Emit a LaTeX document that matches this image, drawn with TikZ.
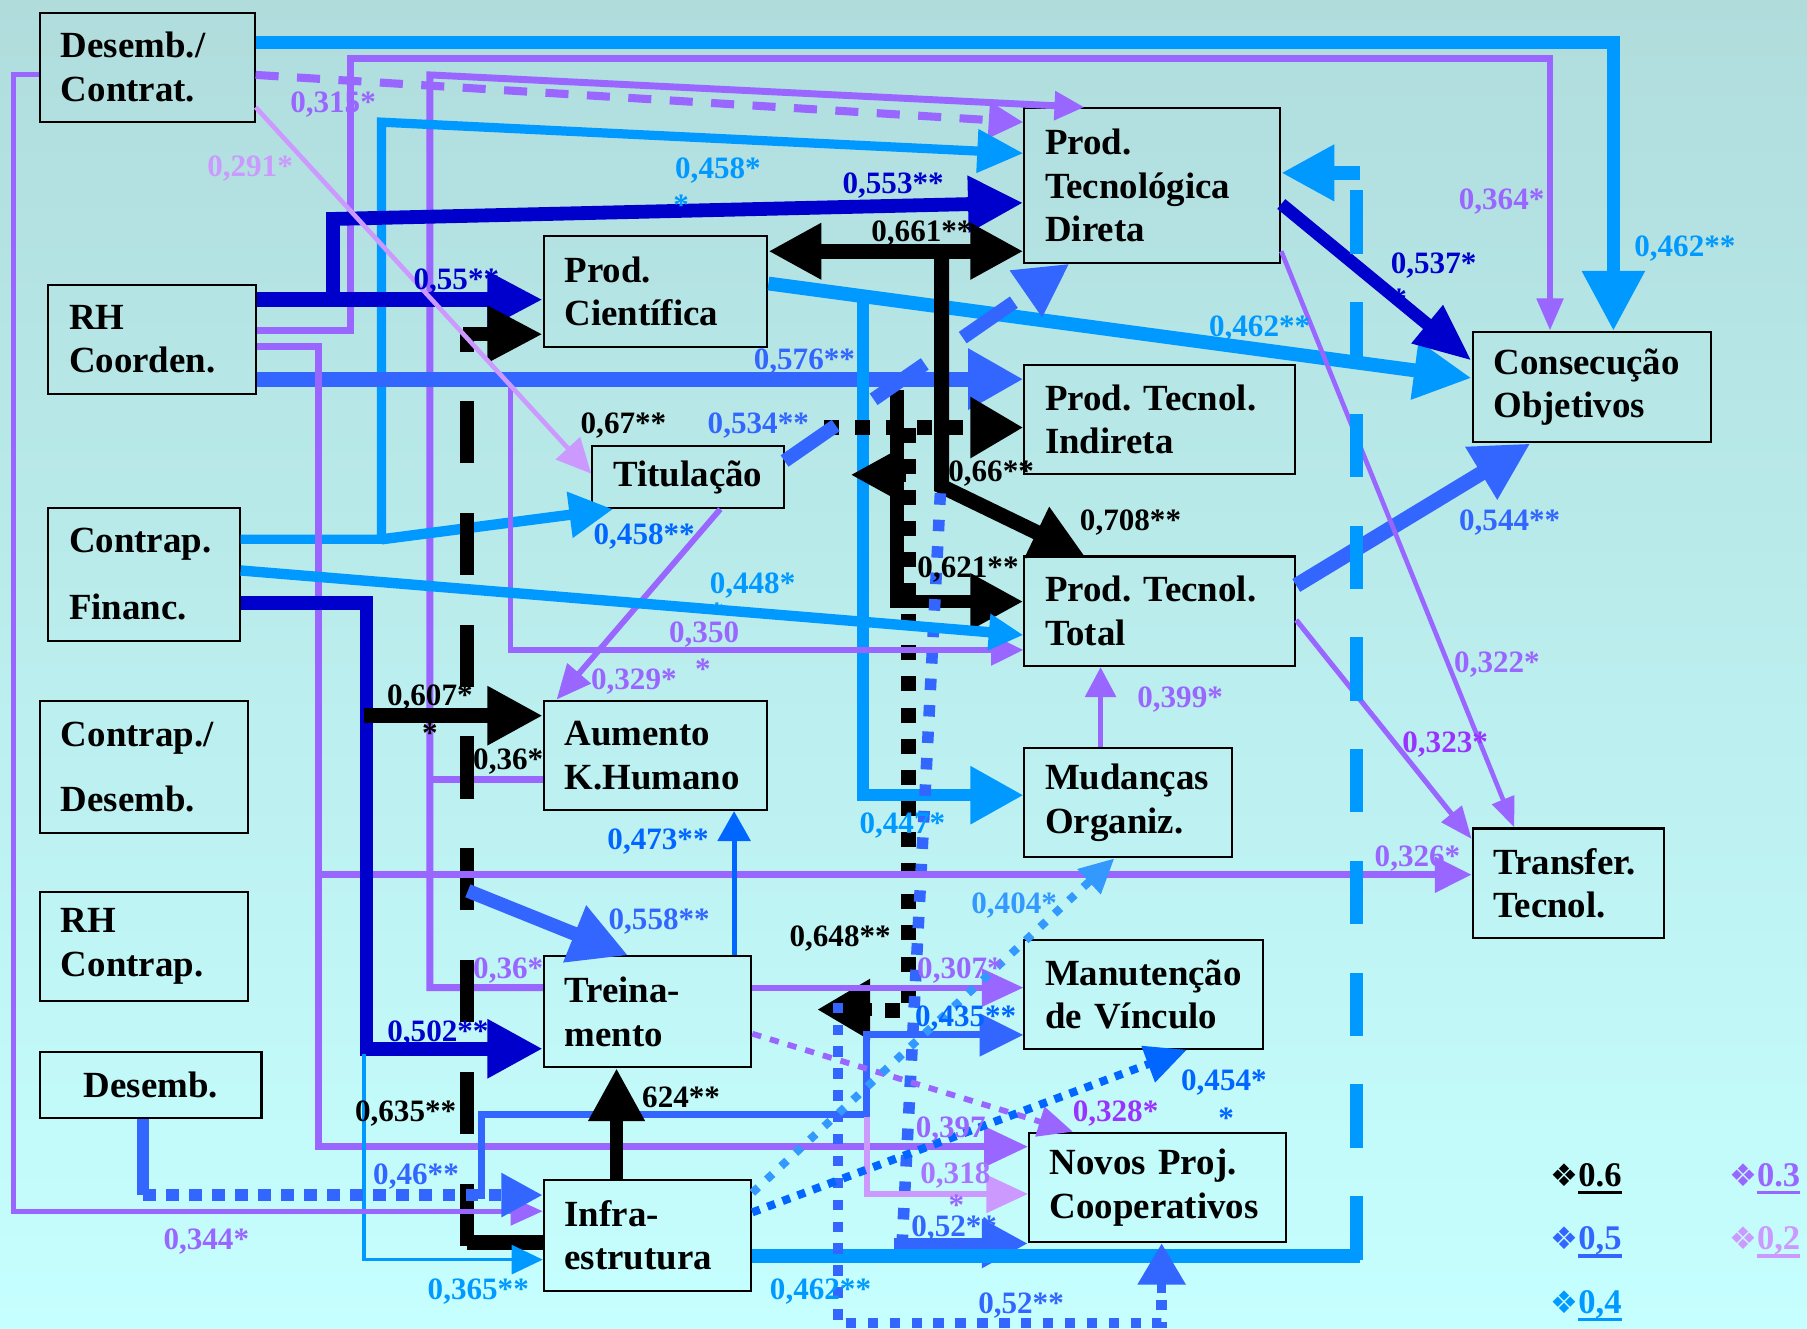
\documentclass[tikz,border=0pt]{standalone}
\usepackage{fontspec}
\setmainfont{Liberation Serif}
\newfontfamily\djv{DejaVu Sans}
\usetikzlibrary{arrows.meta}
\definecolor{lb}{HTML}{0099FF}
\definecolor{bl}{HTML}{3366FF}
\definecolor{db}{HTML}{0000CC}
\definecolor{mb}{HTML}{0066FF}
\definecolor{pu}{HTML}{9966FF}
\definecolor{lp}{HTML}{CC99FF}
\definecolor{dp}{HTML}{9933FF}
\definecolor{dbb}{HTML}{3399FF}
\definecolor{bgtop}{RGB}{176,220,220}
\definecolor{bgbot}{RGB}{198,255,255}
\newcommand{\myul}[1]{\setbox0=\hbox{#1}\rlap{\raisebox{-3.5pt}{\rule{\wd0}{1.6pt}}}\box0}
\frenchspacing
\begin{document}
\begin{tikzpicture}[x=0.5pt,y=-0.5pt,
 bx/.style={draw=black, line width=0.9pt, rectangle, anchor=north west, inner xsep=9pt, inner ysep=0pt, align=left, font=\frenchspacing\bfseries\fontsize{16}{19}\selectfont},
 lab/.style={inner sep=0pt, font=\bfseries\fontsize{13.5}{15}\selectfont},
 lgd/.style={inner sep=0pt, anchor=west, font=\bfseries\fontsize{15}{16}\selectfont}]
\shade[top color=bgtop,bottom color=bgbot] (0,0) rectangle (1568,1153);
\useasboundingbox (0,0) rectangle (1568,1153);

% ---------- boxes ----------
\node[bx,minimum width=93pt,minimum height=47.5pt,text width=75pt] (DC) at (34,10) {Desemb./\\Contrat.};
\node[bx,minimum width=90pt,minimum height=47.5pt,text width=72pt] (RH) at (41,246) {RH\\Coorden.};
\node[bx,minimum width=83pt,minimum height=57.5pt,text width=65pt] (CF) at (41,440) {Contrap.\\[10pt]Financ.};
\node[bx,minimum width=90pt,minimum height=57.5pt,text width=72pt] (CD) at (34,607) {Contrap./\\[9pt]Desemb.};
\node[bx,minimum width=90pt,minimum height=47.5pt,text width=72pt] (RHC) at (34,773) {RH\\Contrap.};
\node[bx,align=center,minimum width=96pt,minimum height=28.5pt,text width=78pt] (DES) at (34,912) {Desemb.};
\node[bx,minimum width=97pt,minimum height=48pt,text width=79pt] (PC) at (471,204) {Prod.\\Científica};
\node[bx,align=center,minimum width=83pt,minimum height=27pt,text width=65pt] (TIT) at (513,386) {Titulação};
\node[bx,minimum width=97pt,minimum height=47.5pt,text width=79pt] (AKH) at (471,607) {Aumento\\K.Humano};
\node[bx,minimum width=90pt,minimum height=48pt,text width=72pt] (TRE) at (471,829) {Treina-\\mento};
\node[bx,minimum width=90pt,minimum height=48pt,text width=72pt] (INF) at (471,1023) {Infra-\\estrutura};
\node[bx,minimum width=111pt,minimum height=67pt,text width=93pt] (PTD) at (888,93) {Prod.\\Tecnológica\\Direta};
\node[bx,minimum width=117.5pt,minimum height=47pt,text width=99.5pt] (PTI) at (888,316) {Prod. Tecnol.\\Indireta};
\node[bx,minimum width=117.5pt,minimum height=47.5pt,text width=99.5pt] (PTT) at (888,482) {Prod. Tecnol.\\Total};
\node[bx,minimum width=90pt,minimum height=47.5pt,text width=72pt] (MO) at (888,648) {Mudanças\\Organiz.};
\node[bx,minimum width=103.5pt,minimum height=47pt,text width=85.5pt] (MV) at (888,815) {Manutenção\\de Vínculo};
\node[bx,minimum width=111.5pt,minimum height=47.5pt,text width=93.5pt] (NPC) at (892,982) {Novos Proj.\\Cooperativos};
\node[bx,minimum width=103.5pt,minimum height=48pt,text width=85.5pt] (CO) at (1277,287) {Consecução\\Objetivos};
\node[bx,minimum width=83pt,minimum height=47.5pt,text width=65pt] (TT) at (1277,718) {Transfer.\\Tecnol.};

% ---------- connectors ----------
% DC -> CO (0,462**)
\draw[lb,line width=5.5pt,-{Triangle[length=26pt,width=26pt]}] (DC.east|-0,37) -- (1400,37) -- (CO.north-|1400,0);
% RH -> CO (0,364*)
\draw[pu,line width=3pt,-{Triangle[length=14pt,width=11pt]}] (RH.east|-0,287) -- (304,287) -- (304,51) -- (1345,51) -- (CO.north-|1345,0);
% DC -> PTD dashed (0,315*)
\draw[pu,line width=3.5pt,dash pattern=on 10pt off 8pt,-{Triangle[length=15pt,width=15pt]}] (DC.east|-0,65) -- (PTD.west|-0,106);
% TRE/AKH -> PTD purple
\draw[pu,line width=3pt,-{Triangle[length=13pt,width=12pt]}] (TRE.west|-0,857) -- (373,857) -- (373,65) -- (PTD.north-|941,0);
\draw[pu,line width=3pt] (AKH.west|-0,676) -- (373,676);
% CF -> PTD, CF -> TIT
\draw[lb,line width=4pt,-{Triangle[length=20pt,width=18pt]}] (CF.east|-0,468) -- (331,468) -- (331,106) -- (PTD.west|-0,133);
\draw[lb,line width=4.5pt,-{Triangle[length=19pt,width=19pt]}] (331,468) -- (TIT.south-|532,0);
% RH -> PC, RH -> PTD (dark blue)
\draw[db,line width=6.5pt,-{Triangle[length=24pt,width=23pt]}] (RH.east|-0,260) -- (PC.west|-0,260);
\draw[db,line width=6pt,-{Triangle[length=24pt,width=23pt]}] (289,262) -- (289,190) -- (PTD.west|-0,176);
% INF -> PC black dashed (0,635**)
\draw[black,line width=6.5pt] (INF.west|-0,1078) -- (405,1078);
\draw[black,line width=6pt,dash pattern=on 27pt off 21.5pt] (405,1081) -- (405,290);
\draw[black,line width=6pt,-{Triangle[length=24pt,width=23pt]}] (402,290) -- (PC.west|-0,290);
% RH -> PTI (0,576**)
\draw[bl,line width=6.5pt,-{Triangle[length=24pt,width=25pt]}] (RH.east|-0,329) -- (PTI.west|-0,329);
% PC -> CO, -> MO
\draw[lb,line width=6pt,-{Triangle[length=25pt,width=24pt]}] (PC.east|-0,246) -- (CO.west|-0,328);
\draw[lb,line width=5pt,-{Triangle[length=23pt,width=24pt]}] (749,257) -- (749,690) -- (MO.west|-0,690);
% PC <-> PTD (0,661**), -> PTT (0,708**)
\draw[black,line width=6.5pt,{Triangle[length=23pt,width=23pt]}-{Triangle[length=23pt,width=23pt]}] (PC.east|-0,218) -- (PTD.west|-0,218);
\draw[black,line width=6.5pt,-{Triangle[length=23pt,width=23pt]}] (817,218) -- (817,422) -- (PTT.north-|941,0);
% PTT L (0,621**)
\draw[black,line width=6pt,-{Triangle[length=23pt,width=23pt]}] (778,338) -- (778,522) -- (PTT.west|-0,522);
\draw[black,line width=6pt,-{Triangle[length=22pt,width=22pt]}] (786,412) -- (738,412);
% black dotted (0,648**)
\draw[black,line width=6.5pt,dash pattern=on 6.5pt off 7pt,-{Triangle[length=23pt,width=25pt]}] (715,371) -- (PTI.west|-0,371);
\draw[black,line width=6.5pt,dash pattern=on 6.5pt off 7pt] (788,371) -- (788,877) -- (762,877);
\draw[black,line width=6pt,-{Triangle[length=23pt,width=25pt]}] (757,876) -- (709,876);
% blue dotted -> NPC (0,52**)
\draw[bl,line width=5pt,dash pattern=on 5pt off 6.5pt] (816,428) -- (783,1075);
\draw[bl,line width=5pt,-{Triangle[length=20pt,width=20pt]}] (776,1079) -- (NPC.west|-0,1079);
% TIT -> PTD blue dashed (0,534**)
\draw[bl,line width=6pt,dash pattern=on 27pt off 20pt,-{Triangle[length=23pt,width=23pt]}] (TIT.east|-0,400) -- (PTD.south-|928,0);
% PTT -> CO (0,544**)
\draw[bl,line width=6.5pt,-{Triangle[length=25pt,width=25pt]}] (PTT.east|-0,508) -- (CO.south-|1328,0);
% PTD -> TT (0,322*)
\draw[pu,line width=2pt,-{Triangle[length=13pt,width=10pt]}] (PTD.east|-0,218) -- (TT.north-|1314,0);
% PTT -> TT (0,323*)
\draw[pu,line width=2.2pt,-{Triangle[length=14pt,width=11pt]}] (PTT.east|-0,538) -- (TT.west|-0,728);
% RH -> NPC, TT (purple 276)
\draw[pu,line width=3pt,-{Triangle[length=19pt,width=17pt]}] (RH.east|-0,301) -- (276,301) -- (276,995) -- (NPC.west|-0,995);
\draw[pu,line width=3pt,-{Triangle[length=16pt,width=15pt]}] (276,759) -- (TT.west|-0,759);
% PTD -> CO (0,537*)
\draw[db,line width=5.5pt,-{Triangle[length=25pt,width=20pt]}] (PTD.east|-0,177) -- (CO.west|-0,313);
% INF -> PTD long dashed (0,462**)
\draw[lb,line width=6pt] (INF.east|-0,1090) -- (1180,1090);
\draw[lb,line width=6pt,dash pattern=on 27.5pt off 21pt] (1177,1093) -- (1177,150);
\draw[lb,line width=6pt,-{Triangle[length=23pt,width=23pt]}] (1180,150) -- (PTD.east|-0,150);
% bottom blue dotted (0,52**)
\draw[bl,line width=4.5pt,dash pattern=on 4.5pt off 5pt] (727,870) -- (727,1148) -- (1008,1148) -- (1008,1125);
\draw[bl,line width=4pt,-{Triangle[length=18pt,width=20pt]}] (1008,1122) -- (NPC.south-|1008,0);
% INF -> MV (0,435**)
\draw[bl,line width=3pt,-{Triangle[length=19pt,width=18pt]}] (418,1040) -- (418,967) -- (752,967) -- (752,898) -- (MV.west|-0,898);
% -> NPC light purple (0,318)
\draw[lp,line width=2.5pt,-{Triangle[length=18pt,width=16pt]}] (752,969) -- (752,1036) -- (NPC.west|-0,1036);
% TRE -> MV (0,307*)
\draw[pu,line width=2.5pt,-{Triangle[length=18pt,width=16pt]}] (TRE.east|-0,857) -- (MV.west|-0,857);
% TRE -> NPC dotted (0,328*)
\draw[pu,line width=2.5pt,dash pattern=on 4pt off 4pt,-{Triangle[length=15pt,width=13pt]}] (TRE.east|-0,897) -- (NPC.north-|931,0);
% INF -> MO diamonds (0,404*)
\draw[dbb,line width=3.5pt,dash pattern=on 3.5pt off 5pt,-{Triangle[length=15pt,width=14pt]}] (INF.east|-0,1035) -- (MO.south-|967,0);
% INF -> MV dotted (0,454*)
\draw[mb,line width=3.5pt,dash pattern=on 3.5pt off 3.5pt,-{Triangle[length=18pt,width=16pt]}] (INF.east|-0,1052) -- (MV.south-|1030,0);
% INF -> TRE (624**)
\draw[black,line width=6pt,-{Triangle[length=23pt,width=23pt]}] (INF.north-|535,0) -- (TRE.south-|535,0);
% TRE -> AKH (0,473**)
\draw[mb,line width=2.2pt,-{Triangle[length=13pt,width=14pt]}] (TRE.north-|637,0) -- (AKH.south-|637,0);
% -> TRE (0,558**)
\draw[bl,line width=6pt,-{Triangle[length=25pt,width=25pt]}] (406,773) -- (TRE.north-|545,0);
% TIT -> AKH (0,329*)
\draw[pu,line width=2.5pt,-{Triangle[length=15pt,width=13pt]}] (TIT.south-|625,0) -- (AKH.north-|483,0);
% -> PTT purple (0,350*)
\draw[pu,line width=2.5pt,-{Triangle[length=14pt,width=13pt]}] (443,334) -- (443,564) -- (PTT.west|-0,564);
% CF -> PTT (0,448*)
\draw[lb,line width=4.5pt,-{Triangle[length=15pt,width=15pt]}] (CF.east|-0,495) -- (PTT.west|-0,551);
% DC -> TIT (0,291*)
\draw[lp,line width=2pt,-{Triangle[length=15pt,width=14pt]}] (DC.east|-0,93) -- (TIT.west|-0,411);
% CF -> TRE (0,502**)
\draw[db,line width=6pt,-{Triangle[length=24pt,width=24pt]}] (CF.east|-0,523) -- (318,523) -- (318,910) -- (TRE.west|-0,910);
% -> INF thin light blue (0,365**)
\draw[lb,line width=1.5pt,-{Triangle[length=13.5pt,width=12.5pt]}] (316,915) -- (316,1093) -- (INF.west|-0,1093);
% DC -> INF purple (0,344*)
\draw[pu,line width=2.2pt,-{Triangle[length=14pt,width=12pt]}] (DC.west|-0,65) -- (12,65) -- (12,1051) -- (INF.west|-0,1051);
% DES -> INF (0,46**)
\draw[bl,line width=5pt] (DES.south-|124,0) -- (124,1037);
\draw[bl,line width=5pt,dash pattern=on 5.5pt off 4.5pt,-{Triangle[length=18pt,width=18pt]}] (124,1037) -- (INF.west|-0,1037);
% MO -> PTT (0,399*)
\draw[pu,line width=2.5pt,-{Triangle[length=13pt,width=13pt]}] (MO.north-|955,0) -- (PTT.south-|955,0);
% -> AKH (0,607*)
\draw[black,line width=6.5pt,-{Triangle[length=24pt,width=24pt]}] (316,621) -- (AKH.west|-0,621);

% ---------- labels ----------
\node[lab,text=pu] (t1) at (289,91) {0,315*};
\node[lab,text=lp] (t2) at (217,146) {0,291*};
\node[lab,text=lb] (t3) at (623,148) {0,458*};
\node[lab,text=lb] (t3s) at (591,178) {*};
\node[lab,text=db] (t4) at (775,161) {0,553**};
\node[lab,text=black] (t5) at (800,203) {0,661**};
\node[lab,text=db] (t6) at (396,244) {0,55**};
\node[lab,text=pu] (t7) at (1303,175) {0,364*};
\node[lab,text=lb] (t8) at (1462,216) {0,462**};
\node[lab,text=db] (t9) at (1244,230) {0,537*};
\node[lab,text=db] (t9s) at (1214,260) {*};
\node[lab,text=lb] (t10) at (1093,285) {0,462**};
\node[lab,text=bl] (t11) at (698,314) {0,576**};
\node[lab,text=black] (t12) at (541,369) {0,67**};
\node[lab,text=bl] (t13) at (658,369) {0,534**};
\node[lab,text=black] (t14) at (860,411) {0,66**};
\node[lab,text=black] (t15) at (981,453) {0,708**};
\node[lab,text=mb] (t16) at (559,466) {0,458**};
\node[lab,text=bl] (t17) at (1310,453) {0,544**};
\node[lab,text=black] (t18) at (840,494) {0,621**};
\node[lab,text=lb] (t19) at (653,508) {0,448*};
\node[lab,text=lb] (t19s) at (622,532) {*};
\node[lab,text=pu] (t20) at (611,551) {0,350};
\node[lab,text=pu] (t20s) at (610,581) {*};
\node[lab,text=pu] (t21) at (550,591) {0,329*};
\node[lab,text=pu] (t22) at (1299,577) {0,322*};
\node[lab,text=pu] (t23) at (1024,607) {0,399*};
\node[lab,text=black] (t24) at (373,605) {0,607*};
\node[lab,text=black] (t24s) at (373,636) {*};
\node[lab,text=black] (t25) at (441,661) {0,36*};
\node[lab,text=dp] (t26) at (1254,646) {0,323*};
\node[lab,text=lb] (t27) at (783,716) {0,447*};
\node[lab,text=mb] (t28) at (571,730) {0,473**};
\node[lab,text=pu] (t29) at (1230,745) {0,326*};
\node[lab,text=dbb] (t30) at (880,786) {0,404*};
\node[lab,text=bl] (t31) at (572,800) {0,558**};
\node[lab,text=black] (t32) at (729,814) {0,648**};
\node[lab,text=pu] (t33) at (441,842) {0,36*};
\node[lab,text=pu] (t34) at (833,842) {0,307*};
\node[lab,text=mb] (t35) at (838,884) {0,435**};
\node[lab,text=db] (t36) at (380,897) {0,502**};
\node[lab,text=mb] (t37) at (1062,939) {0,454*};
\node[lab,text=mb] (t37s) at (1064,970) {*};
\node[lab,text=black] (t38) at (591,952) {624**};
\node[lab,text=black] (t39) at (352,966) {0,635**};
\node[lab,text=dp] (t40) at (968,966) {0,328*};
\node[lab,text=pu] (t41) at (825,980) {0,397};
\node[lab,text=bl] (t42) at (361,1021) {0,46**};
\node[lab,text=pu!70!lp] (t43) at (829,1020) {0,318};
\node[lab,text=pu] (t43s) at (830,1046) {*};
\node[lab,text=bl] (t44) at (828,1066) {0,52**};
\node[lab,text=pu] (t45) at (179,1077) {0,344*};
\node[lab,text=lb] (t46) at (415,1121) {0,365**};
\node[lab,text=lb] (t47) at (712,1121) {0,462**};
\node[lab,text=bl] (t48) at (886,1133) {0,52**};

% ---------- legend ----------
\node[lgd,text=black] (lg6) at (1345,1023) {{\djv\fontsize{13.5}{14}\selectfont ❖}\myul{0.6}};
\node[lgd,text=bl] (lg5) at (1345,1078) {{\djv\fontsize{13.5}{14}\selectfont ❖}\myul{0,5}};
\node[lgd,text=lb] (lg4) at (1345,1133) {{\djv\fontsize{13.5}{14}\selectfont ❖}\myul{0,4}};
\node[lgd,text=pu] (lg3) at (1500,1023) {{\djv\fontsize{13.5}{14}\selectfont ❖}\myul{0.3}};
\node[lgd,text=lp] (lg2) at (1500,1078) {{\djv\fontsize{13.5}{14}\selectfont ❖}\myul{0,2}};
\end{tikzpicture}
\end{document}
